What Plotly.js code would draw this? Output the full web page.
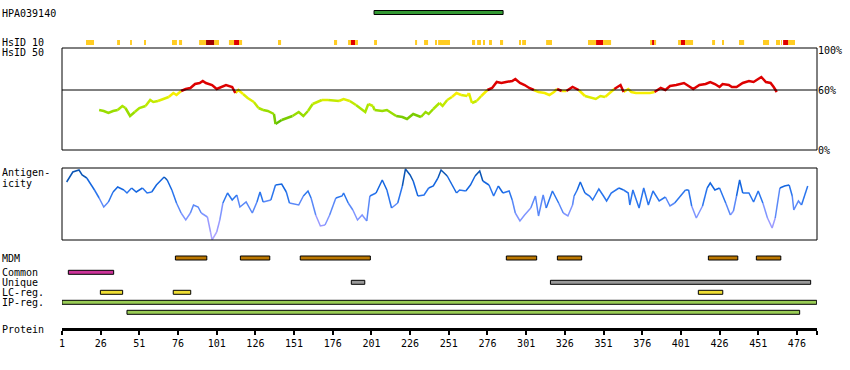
<!DOCTYPE html>
<html><head><meta charset="utf-8">
<script src="https://cdn.plot.ly/plotly-3.0.1.min.js"></script>
<style>html,body{margin:0;padding:0;background:#fff}</style>
</head><body><div id="chart" style="width:850px;height:370px"></div>
<script>
// ---------- data ----------
const proteinLength = 489;
const tickResidues = [1,26,51,76,101,126,151,176,201,226,251,276,301,326,351,376,401,426,451,476];
const antibodyName = 'HPA039140';
const hpaStart = [202.7], hpaEnd = [286.1];

const hs10Start = [16.5,36.6,45.0,54.0,72.1,76.6,89.6,94.1,99.3,108.9,112.2,115.4,140.6,176.8,185.9,187.8,190.4,202.7,229.2,235.0,242.1,244.1,266.0,269.3,273.1,277.0,284.1,296.4,298.4,313.9,341.0,346.2,350.7,381.1,382.4,383.7,399.2,401.1,403.7,421.2,427.6,438.6,454.1,462.5,465.8,467.1,470.3];
const hs10End   = [21.7,38.5,46.2,55.3,75.3,78.6,94.1,99.3,102.5,112.2,115.4,117.4,142.6,178.8,187.8,190.4,192.3,204.6,230.5,237.6,243.4,251.8,268.0,271.8,274.4,278.9,286.1,297.7,300.9,317.7,346.2,350.7,355.9,382.4,383.7,385.0,401.1,403.7,408.9,423.1,428.9,441.9,458.0,465.1,466.4,470.3,474.8];
const hs10Level = [1,1,1,1,1,1,1,3,1,1,2,1,1,1,1,2,1,1,1,1,1,1,1,1,1,1,1,1,1,1,1,2,1,1,2,1,1,2,1,1,1,1,1,1,1,2,1];

const hs50Res = [25,28,31,34,37,40,42,45,48,51, 55,58,60,63,66,70,73,75,78,81, 84,87,90,92,94,98,101,104,107,111,
  113,115,118,121,125,128,131,134,138,139, 143,146,150,154,157,160,163,169,173,180, 183,187,191,197,199,202,203,208,211,214,
  217,221,224,228,233,236,238,241,245,247, 250,253,256,259,263,264,266,269,272,276, 279,282,285,288,292,294,297,300,303,306,
  309,313,316,319,321,324,327,329,331,335, 339,342,346,349,352,355,358,362,364,367, 369,372,377,381,384,388,391,394,398,403,
  406,409,413,417,420,423,426,428,432,434, 437,441,445,448,451,453,456,459,461,463];
const hs50Val = [40,39,37,39,40,44,42,34,38,42, 44,50,48,49,51,53,57,55,59,61, 62,66,67,69,67,65,61,63,65,63,
  57,60,56,52,48,42,40,39,36,26, 30,32,34,38,34,39,46,50,50,49, 51,49,45,38,46,44,40,39,40,37,
  34,33,31,36,33,38,36,41,47,44, 50,53,57,55,54,57,47,49,54,60, 62,68,67,68,69,71,67,65,62,60,
  58,57,55,58,61,59,59,61,63,60, 54,53,51,54,53,57,61,65,58,61, 58,57,57,57,58,62,60,64,65,67,
  64,61,65,66,68,66,63,66,65,63, 63,67,69,68,71,73,68,67,63,58];
const hs50TickVals = [0,60,100];
const hs50TickText = ['0%','60%','100%'];
const hs50Threshold = 60;

const antiRes = [4,6,8,12,14,17,19,22,25,28, 31,34,37,41,43,46,49,53,56,59, 62,67,69,72,75,78,81,84,86,89,
  91,95,97,98,101,103,105,108,111,114, 116,120,124,127,129,131,136,139,143,146, 148,154,157,160,162,165,168,171,174,178,
  182,183,186,189,192,195,198,200,204,208, 211,214,218,221,223,226,228,231,235,238, 241,244,246,250,253,256,258,262,265,268,
  271,273,277,280,283,286,290,292,294,297, 300,304,307,309,312,314,318,322,325,328, 331,332,334,336,339,342,344,348,351,353,
  356,361,364,367,368,370,374,377,380,383, 387,391,394,397,401,404,406,408,411,415, 418,420,423,426,430,433,435,437,439,441,
  445,448,451,454,457,460,462,465,468,471, 473,474,477,479,481,483];
const antiVal = [58,63,68,70,65,62,57,50,42,33, 38,48,53,50,47,52,48,52,47,48, 55,63,60,50,37,27,20,27,35,33,
  27,23,8,0,8,20,37,47,40,45, 33,38,27,38,48,38,40,55,56,48, 37,35,44,49,42,25,14,15,25,42,
  44,47,37,30,20,25,19,44,47,60, 50,32,37,54,71,65,59,44,45,52, 54,62,70,64,55,47,50,49,55,64,
  69,59,55,44,54,47,49,40,27,19, 25,32,44,24,45,32,49,37,27,24, 35,44,50,58,47,44,40,51,44,39,
  47,52,50,47,35,50,32,52,35,49, 39,43,34,37,45,50,50,34,22,34, 52,57,50,52,37,25,29,44,60,47,
  47,38,49,37,22,12,22,52,54,55, 44,30,39,35,45,54];

const mdmStart = [74.3,116.3,155.0,288.2,321.2,418.8,449.8];
const mdmEnd   = [94.6,135.3,200.3,307.8,336.9,437.8,465.6];
const commonStart = [5.1], commonEnd = [34.4];
const uniqueStart = [188.0,316.7], uniqueEnd = [196.7,484.9];
const lcStart = [25.8,72.9,412.3], lcEnd = [40.2,84.2,428.1];
const ipStart = [1.0,43.0], ipEnd = [488.8,477.8], ipRow = [0,1];

const rowLabels = ['MDM','Common','Unique','LC-reg.','IP-reg.'];

// ---------- styling / layout (pixel rows on helper axis y3) ----------
const H = 370;
const rowY = {hpa:12.5, hs10:42.5, mdm:258, common:272.3, unique:282.3, lc:292.3, ip:[302.3,312.3]};
const labelY = {hpa:13, hs10:42.5, hs50:52.5, anti1:172.7, anti2:183.3, protein:329.5};
const FONT = 'DejaVu Sans Mono';

function barTrace(starts, ends, ys, color, width, lw){
  return {type:'bar', orientation:'h', base:starts, x:ends.map((e,i)=>e-starts[i]),
    y:ys, width:width, marker:{color:color, line:{color:'#000', width:lw}},
    xaxis:'x', yaxis:'y3', hoverinfo:'skip'};
}
function binned(xs, ys, binOf){
  const g = {};
  for(let i=0;i<xs.length-1;i++){
    const b = binOf((ys[i]+ys[i+1])/2);
    if(!g[b]) g[b] = {x:[],y:[],last:-5};
    const s = g[b];
    if(s.last !== i-1){
      if(s.x.length){ s.x.push(null); s.y.push(null); }
      s.x.push(xs[i]); s.y.push(ys[i]);
    }
    s.x.push(xs[i+1]); s.y.push(ys[i+1]);
    s.last = i;
  }
  return g;
}
const traces = [];

// HPA antigen bar
traces.push(barTrace(hpaStart, hpaEnd, hpaStart.map(()=>rowY.hpa), '#339933', 4, 1));

// HsID 10 blocks
const hs10Colors = {1:'#ffcc22', 2:'#e00000', 3:'#a00000'};
[1,2,3].forEach(l=>{
  const idx = hs10Level.map((v,i)=>v===l?i:-1).filter(i=>i>=0);
  traces.push(barTrace(idx.map(i=>hs10Start[i]), idx.map(i=>hs10End[i]), idx.map(()=>rowY.hs10), hs10Colors[l], 5, 0));
});

// HsID 50 curve
const hs50Pal = ['#5fc000','#7acc00','#99dd00','#aae600','#c2ea00','#dcee00','#f6ee00','#dd0000'];
const hs50Bin = v => v>=hs50Threshold ? 7 : (v<30 ? 0 : Math.min(6, 1+Math.floor((v-30)/5)));
const g50 = binned(hs50Res, hs50Val, hs50Bin);
Object.keys(g50).forEach(b=>{
  traces.push({type:'scatter', mode:'lines', x:g50[b].x, y:g50[b].y, connectgaps:false,
    line:{color:hs50Pal[b], width:2.5}, xaxis:'x', yaxis:'y', hoverinfo:'skip'});
});

// Antigenicity curve
const antiPal = ['#aaa5ff','#9a9aff','#7f95ff','#5a88f8','#2a75ee','#1466e0','#0a55b5'];
const antiBin = v => Math.min(6, Math.floor(v/10));
const ga = binned(antiRes, antiVal, antiBin);
Object.keys(ga).forEach(b=>{
  traces.push({type:'scatter', mode:'lines', x:ga[b].x, y:ga[b].y, connectgaps:false,
    line:{color:antiPal[b], width:1.5}, xaxis:'x', yaxis:'y2', hoverinfo:'skip'});
});

// Feature rows
traces.push(barTrace(mdmStart, mdmEnd, mdmStart.map(()=>rowY.mdm), '#bb7700', 4, 1));
traces.push(barTrace(commonStart, commonEnd, commonStart.map(()=>rowY.common), '#cc3399', 4, 1));
traces.push(barTrace(uniqueStart, uniqueEnd, uniqueStart.map(()=>rowY.unique), '#999999', 4, 1));
traces.push(barTrace(lcStart, lcEnd, lcStart.map(()=>rowY.lc), '#eedd33', 4, 1));
traces.push(barTrace(ipStart, ipEnd, ipRow.map(r=>rowY.ip[r]), '#99cc55', 4, 1));

// Labels
const lx = (1-62)/755;
function lab(text, y){ return {text:text, xref:'paper', yref:'y3', x:lx, y:y, xanchor:'left', yanchor:'middle',
  showarrow:false, borderpad:0, font:{family:FONT, size:10, color:'#000'}}; }
const annotations = [
  lab(antibodyName, labelY.hpa), lab('HsID 10', labelY.hs10), lab('HsID 50', labelY.hs50),
  lab('Antigen-', labelY.anti1), lab('icity', labelY.anti2),
  lab(rowLabels[0], rowY.mdm), lab(rowLabels[1], rowY.common), lab(rowLabels[2], rowY.unique),
  lab(rowLabels[3], rowY.lc), lab(rowLabels[4], rowY.ip[0]), lab('Protein', labelY.protein)
];

const layout = {
  width:850, height:370, margin:{l:62, r:33, t:0, b:0, pad:0},
  paper_bgcolor:'#ffffff', plot_bgcolor:'rgba(0,0,0,0)', showlegend:false, barmode:'overlay',
  font:{family:FONT, size:10, color:'#000'},
  xaxis:{range:[1, proteinLength], anchor:'free', position:1-329/H, showgrid:false, zeroline:false,
    showline:true, linewidth:3, linecolor:'#000', ticks:'outside', ticklen:4, tickwidth:2, tickcolor:'#000',
    tickvals:tickResidues.concat([proteinLength]), ticktext:tickResidues.map(String).concat(['']),
    tickfont:{family:FONT, size:10, color:'#000'}, fixedrange:true},
  yaxis:{domain:[1-150/H, 1-48/H], range:[0,102], anchor:'x', side:'right', showgrid:false, zeroline:false,
    showline:false, ticks:'', tickvals:hs50TickVals, ticktext:hs50TickText,
    tickfont:{family:FONT, size:10, color:'#000'}, fixedrange:true},
  yaxis2:{domain:[1-240/H, 1-168/H], range:[0,72], anchor:'x', visible:false, showgrid:false, zeroline:false, fixedrange:true},
  yaxis3:{domain:[0,1], range:[H,0], anchor:'x', visible:false, showgrid:false, zeroline:false, fixedrange:true},
  shapes:[
    {type:'rect', xref:'paper', yref:'y domain', x0:0, x1:1, y0:0, y1:1, line:{color:'#000', width:1}, fillcolor:'rgba(0,0,0,0)'},
    {type:'rect', xref:'paper', yref:'y2 domain', x0:0, x1:1, y0:0, y1:1, line:{color:'#000', width:1}, fillcolor:'rgba(0,0,0,0)'},
    {type:'line', xref:'paper', yref:'y', x0:0, x1:1, y0:hs50Threshold, y1:hs50Threshold, line:{color:'#000', width:1}}
  ],
  annotations:annotations
};

Plotly.newPlot('chart', traces, layout, {staticPlot:true, displayModeBar:false});
</script>
</body></html>
